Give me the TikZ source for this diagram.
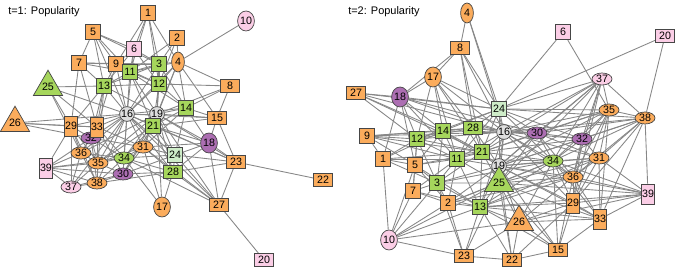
\documentclass[tikz,border=0pt]{standalone}
\usepackage{fontspec}
\setmainfont{Liberation Sans}
\usepackage{xcolor}
\definecolor{FillOrange}{RGB}{251,172,92}
\definecolor{FillGreen}{RGB}{166,214,92}
\definecolor{FillMint}{RGB}{206,236,200}
\definecolor{FillPink}{RGB}{251,206,230}
\definecolor{FillPurple}{RGB}{172,110,178}
\definecolor{FillGray}{RGB}{222,222,222}
\definecolor{BorderDark}{RGB}{70,70,70}
\definecolor{EdgeGray}{RGB}{135,135,135}
\usetikzlibrary{shapes, shapes.geometric, backgrounds}
\tikzset{
  % Generic vertex
  vtx/.style={
    draw=BorderDark, line width=0.5pt,
    inner sep=0pt, align=center,
    font=\fontsize{7.6}{8}\selectfont
  },
  % Shape variants
  vsq/.style={vtx, rectangle, minimum width=0.39cm, minimum height=0.39cm},
  vwide/.style={vtx, rectangle, minimum width=0.49cm, minimum height=0.31cm},
  vtall/.style={vtx, rectangle, minimum width=0.32cm, minimum height=0.5cm},
  vcirc/.style={vtx, circle, minimum size=0.37cm},
  vellh/.style={vtx, ellipse, minimum width=0.5cm, minimum height=0.3cm},
  vellv/.style={vtx, ellipse, minimum width=0.32cm, minimum height=0.5cm},
  vtri/.style={vtx, regular polygon, regular polygon sides=3, minimum size=0.59cm},
  % Fill variants
  cor/.style={fill=FillOrange},
  cgr/.style={fill=FillGreen},
  cmi/.style={fill=FillMint},
  cpi/.style={fill=FillPink},
  cpu/.style={fill=FillPurple},
  cgy/.style={fill=FillGray},
  % Ties
  tie/.style={draw=EdgeGray, line width=0.62pt},
  % Panel title
  ptitle/.style={anchor=west, font=\fontsize{7.8}{9}\selectfont, inner sep=0pt}
}

\begin{document}
\begin{tikzpicture}[x=0.025cm, y=-0.025cm]

  \useasboundingbox (0,0) rectangle (681,273);

  %% Panel t=1
  \node[ptitle] (title1) at (8,12) {t=1: Popularity};

  \node[vsq, cor]   (p1n1)  at (148,13)  {1};
  \node[vsq, cor]   (p1n2)  at (177,38)  {2};
  \node[vsq, cgr]   (p1n3)  at (159,64)  {3};
  \node[vellv, cor] (p1n4)  at (178,62)  {4};
  \node[vsq, cor]   (p1n5)  at (93,32)   {5};
  \node[vsq, cpi]   (p1n6)  at (134,49)  {6};
  \node[vsq, cor]   (p1n7)  at (79,63)   {7};
  \node[vwide, cor] (p1n8)  at (230,86)  {8};
  \node[vsq, cor]   (p1n9)  at (116,64)  {9};
  \node[vellv, cpi] (p1n10) at (246,21)  {10};
  \node[vsq, cgr]   (p1n11) at (130,72)  {11};
  \node[vsq, cgr]   (p1n12) at (159,84)  {12};
  \node[vsq, cgr]   (p1n13) at (104,86)  {13};
  \node[vsq, cgr]   (p1n14) at (186,108) {14};
  \node[vwide, cor] (p1n15) at (217,118) {15};
  \node[vcirc, cgy] (p1n16) at (127,114) {16};
  \node[vellv, cor] (p1n17) at (162,207) {17};
  \node[vellv, cpu] (p1n18) at (209,143) {18};
  \node[vcirc, cgy] (p1n19) at (157,114) {19};
  \node[vwide, cpi] (p1n20) at (264,260) {20};
  \node[vsq, cgr]   (p1n21) at (153,126) {21};
  \node[vwide, cor] (p1n22) at (323,180) {22};
  \node[vwide, cor] (p1n23) at (236,162) {23};
  \node[vsq, cmi]   (p1n24) at (175,155) {24};
  \node[vtri, cgr]  (p1n25) at (48,87)   {25};
  \node[vtri, cor]  (p1n26) at (15,123)  {26};
  \node[vwide, cor] (p1n27) at (219,205) {27};
  \node[vwide, cgr] (p1n28) at (173,172) {28};
  \node[vtall, cor] (p1n29) at (71,126)  {29};
  \node[vellh, cpu] (p1n30) at (123,174) {30};
  \node[vellh, cor] (p1n31) at (143,147) {31};
  \node[vellh, cpu] (p1n32) at (91,138)  {32};
  \node[vtall, cor] (p1n33) at (97,127)  {33};
  \node[vellh, cgr] (p1n34) at (124,158) {34};
  \node[vellh, cor] (p1n35) at (98,163)  {35};
  \node[vellh, cor] (p1n36) at (81,153)  {36};
  \node[vellh, cpi] (p1n37) at (71,187)  {37};
  \node[vellh, cor] (p1n38) at (97,183)  {38};
  \node[vtall, cpi] (p1n39) at (46,168)  {39};

  %% Panel t=2
  \node[ptitle] (title2) at (348,12) {t=2: Popularity};

  \node[vsq, cor]   (p2n1)  at (383,159) {1};
  \node[vsq, cor]   (p2n2)  at (448,203) {2};
  \node[vsq, cgr]   (p2n3)  at (437,183) {3};
  \node[vellv, cor] (p2n4)  at (467,13)  {4};
  \node[vsq, cor]   (p2n5)  at (415,165) {5};
  \node[vsq, cpi]   (p2n6)  at (563,32)  {6};
  \node[vsq, cor]   (p2n7)  at (413,191) {7};
  \node[vwide, cor] (p2n8)  at (460,48)  {8};
  \node[vsq, cor]   (p2n9)  at (367,136) {9};
  \node[vellv, cpi] (p2n10) at (389,240) {10};
  \node[vsq, cgr]   (p2n11) at (457,159) {11};
  \node[vsq, cgr]   (p2n12) at (417,139) {12};
  \node[vsq, cgr]   (p2n13) at (480,207) {13};
  \node[vsq, cgr]   (p2n14) at (443,131) {14};
  \node[vwide, cor] (p2n15) at (558,250) {15};
  \node[vcirc, cgy] (p2n16) at (504,132) {16};
  \node[vellv, cor] (p2n17) at (433,77)  {17};
  \node[vellv, cpu] (p2n18) at (400,97)  {18};
  \node[vcirc, cgy] (p2n19) at (499,166) {19};
  \node[vwide, cpi] (p2n20) at (665,36)  {20};
  \node[vsq, cgr]   (p2n21) at (482,152) {21};
  \node[vwide, cor] (p2n22) at (512,260) {22};
  \node[vwide, cor] (p2n23) at (464,256) {23};
  \node[vsq, cmi]   (p2n24) at (499,109) {24};
  \node[vtri, cgr]  (p2n25) at (499,183) {25};
  \node[vtri, cor]  (p2n26) at (519,222) {26};
  \node[vwide, cor] (p2n27) at (356,93)  {27};
  \node[vwide, cgr] (p2n28) at (473,128) {28};
  \node[vtall, cor] (p2n29) at (573,203) {29};
  \node[vellh, cpu] (p2n30) at (537,133) {30};
  \node[vellh, cor] (p2n31) at (599,158) {31};
  \node[vellh, cpu] (p2n32) at (582,139) {32};
  \node[vtall, cor] (p2n33) at (600,219) {33};
  \node[vellh, cgr] (p2n34) at (553,161) {34};
  \node[vellh, cor] (p2n35) at (609,110) {35};
  \node[vellh, cor] (p2n36) at (573,177) {36};
  \node[vellh, cpi] (p2n37) at (602,79)  {37};
  \node[vellh, cor] (p2n38) at (645,118) {38};
  \node[vtall, cpi] (p2n39) at (648,194) {39};

  %% Ties, behind the vertices
  \begin{pgfonlayer}{background}
    % t=1
    \foreach \s/\t in {1/6,1/9,1/11,1/3,1/12,1/4,
      5/6,5/9,5/11,5/13,5/7,5/3,5/16,
      6/11,6/9,6/3,6/16,6/13,6/12,
      7/13,7/9,7/11,7/3,7/29,7/33,
      9/11,9/13,9/16,9/3,9/12,9/33,
      11/3,11/12,11/13,11/16,11/19,11/21,11/14,11/4,
      3/12,3/4,3/2,3/19,3/16,3/13,3/14,
      2/4,2/12,2/11,
      4/10,4/8,4/15,4/12,4/14,4/19,4/21,4/16,
      12/19,12/16,12/14,12/21,12/13,12/8,
      13/16,13/25,13/29,13/33,13/19,13/32,13/35,
      25/29,25/16,25/33,25/36,
      26/29,26/16,26/33,26/32,
      8/15,8/19,8/14,
      14/19,14/15,14/16,14/21,14/18,14/24,14/31,
      15/19,15/18,15/23,15/16,15/21,
      16/19,16/21,16/29,16/33,16/32,16/31,16/34,16/35,16/36,16/38,16/30,16/24,16/28,16/27,16/37,
      19/21,19/24,19/28,19/31,19/34,19/18,19/23,19/30,19/36,19/35,19/17,
      21/24,21/28,21/31,21/34,21/23,21/35,21/30,21/18,
      18/23,18/27,18/24,18/28,18/31,
      23/22,23/27,23/28,23/24,23/16,
      27/20,27/24,27/28,27/19,27/31,27/34,
      24/28,24/31,24/34,24/30,
      28/17,28/31,28/34,28/30,28/38,
      17/31,17/34,
      29/33,29/39,29/36,29/32,29/35,29/37,29/38,
      33/32,33/36,33/35,33/34,33/38,33/30,33/31,
      39/36,39/35,39/37,39/38,39/32,39/34,39/30,
      32/36,32/35,32/34,32/31,32/38,
      36/35,36/37,36/38,36/34,
      35/34,35/38,35/37,35/30,35/31,
      34/31,34/30,34/38,31/30,30/38,30/37,38/37}
      \draw[tie] (p1n\s) -- (p1n\t);
    % t=2
    \foreach \s/\t in {4/8,4/24,4/16,
      8/17,8/18,8/24,8/28,8/16,8/21,
      17/18,17/14,17/12,17/24,17/28,17/16,17/21,17/11,
      27/18,27/24,27/14,27/12,27/16,27/21,
      18/12,18/1,18/5,18/24,18/14,18/11,18/16,18/30,
      6/24,6/35,20/24,20/38,
      37/24,37/16,37/30,37/32,37/35,37/38,37/19,37/34,37/36,37/29,37/21,37/25,
      35/38,35/24,35/16,35/30,35/32,35/31,35/34,35/36,35/29,35/33,35/19,35/21,
      38/32,38/31,38/30,38/16,38/34,38/39,38/36,38/29,38/33,38/19,38/24,
      39/36,39/29,39/33,39/34,39/25,39/19,39/13,39/31,39/26,
      10/7,10/3,10/2,10/13,10/23,10/5,10/25,10/26,10/1,
      23/13,23/22,23/26,23/3,23/2,23/25,
      22/13,22/26,22/15,22/25,22/29,22/19,
      15/29,15/33,15/26,15/36,15/34,15/25,15/13,15/19,
      33/29,33/36,33/31,33/26,33/34,33/19,
      29/36,29/31,29/34,29/26,29/13,29/16,
      26/13,26/25,26/34,26/19,26/36,
      9/12,9/14,9/11,9/21,9/1,9/5,9/28,9/16,
      1/12,1/5,1/11,1/3,1/21,1/14,
      12/14,12/5,12/11,12/21,12/3,12/28,12/16,12/24,
      14/28,14/11,14/21,14/24,14/16,14/19,14/3,14/5,
      28/24,28/16,28/21,28/11,28/19,28/30,
      24/16,24/21,24/19,24/30,24/32,24/11,24/34,
      16/21,16/19,16/30,16/32,16/11,16/25,16/34,16/31,16/13,16/36,
      5/11,5/3,5/7,5/21,5/2,5/13,
      11/21,11/3,11/19,11/13,11/2,11/25,11/34,
      21/19,21/25,21/13,21/3,21/30,21/34,21/32,
      19/25,19/30,19/34,19/32,19/31,19/36,19/13,19/29,
      3/7,3/2,3/13,3/25,3/19,3/34,
      7/2,7/13,7/11,7/12,
      2/13,2/25,2/19,2/34,2/36,
      13/25,13/34,13/36,13/33,13/31,
      25/34,25/36,25/30,25/31,25/33,
      30/32,30/34,30/31,30/36,
      32/34,32/31,32/36,32/29,
      34/31,34/36,31/36}
      \draw[tie] (p2n\s) -- (p2n\t);
  \end{pgfonlayer}

\end{tikzpicture}
\end{document}
